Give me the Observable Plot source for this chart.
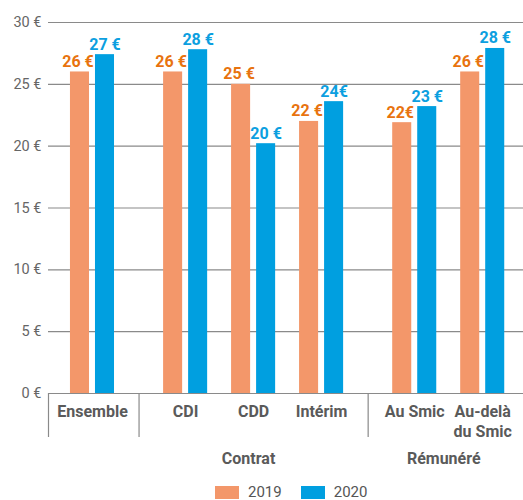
<!DOCTYPE html>
<html><head><meta charset="utf-8">
<script src="https://cdn.jsdelivr.net/npm/d3@7"></script>
<script src="https://cdn.jsdelivr.net/npm/@observablehq/plot@0.6"></script>
<style>
html,body{margin:0;background:#fff;font-family:Roboto,"DejaVu Sans Condensed",sans-serif;}
#chart svg{display:block}
#legend{display:flex;align-items:center;margin-left:215px;margin-top:5px;font-size:15px;color:#555;line-height:15px;height:15px}
.sw{width:24px;height:13px;display:inline-block;margin-right:9px}
.item{display:flex;align-items:center;margin-right:19px}
</style></head><body><div id="chart"></div>
<div id="legend"></div>
<script>
const categories = ["Ensemble","CDI","CDD","Intérim","Au Smic","Au-delà\ndu Smic"];
const categoryGroups = ["", "Contrat","Contrat","Contrat","Rémunéré","Rémunéré"];
const groupNames = ["", "Contrat", "Rémunéré"];
const years = ["2019","2020"];
const values2019 = [26.0, 26.0, 25.0, 22.0, 21.9, 26.0];
const values2020 = [27.4, 27.8, 20.2, 23.6, 23.2, 27.9];
const labels2019 = ["26 €","26 €","25 €","22 €","22€","26 €"];
const labels2020 = ["27 €","28 €","20 €","24€","23 €","28 €"];
const yTicks = [0,5,10,15,20,25,30];

const barColors = ["#F3976A","#009FE0"];
const labelColors = ["#E8730F","#0C9FE0"];
const GAP = 0.37, OFF = 0.184, HALF = 0.14;
const FONT = 'Roboto,"DejaVu Sans Condensed",sans-serif';

const pos = categories.map((c,i) => i + GAP * groupNames.indexOf(categoryGroups[i]));
const xmin = -0.647, xmax = pos[pos.length-1] + 0.6;

const bars = [];
categories.forEach((c,i) => {
  [values2019, values2020].forEach((vals, k) => {
    const cx = pos[i] + (k === 0 ? -OFF : OFF);
    bars.push({cat: c, year: years[k], k, value: vals[i], label: (k===0?labels2019:labels2020)[i], cx, x1: cx - HALF, x2: cx + HALF});
  });
});
const cats = categories.map((c,i) => ({name: c, pos: pos[i]}));
const dividers = [xmin];
for (let i = 1; i < categories.length; i++) {
  if (categoryGroups[i] !== categoryGroups[i-1]) dividers.push((pos[i] + pos[i-1]) / 2);
}
const groupLabels = groupNames.filter(g => g).map(g => {
  const ps = pos.filter((p,i) => categoryGroups[i] === g);
  return {name: g, pos: d3.mean(ps)};
});

const plot = Plot.plot({
  width: 523, height: 480,
  marginLeft: 48, marginRight: 0, marginTop: 22, marginBottom: 87,
  x: {type: "linear", domain: [xmin, xmax], axis: null},
  y: {domain: [0, 30], axis: null},
  color: {domain: years, range: barColors},
  style: {fontFamily: FONT, background: "white", overflow: "visible"},
  marks: [
    Plot.gridY(yTicks, {stroke: "#8a8a8a", strokeOpacity: 1, strokeWidth: 1.2}),
    Plot.axisY(yTicks, {tickSize: 0, tickPadding: 7, tickFormat: d => d + " €", fontSize: 14.5, fill: "#666", label: null}),
    Plot.rectY(bars, {x1: "x1", x2: "x2", y: "value", fill: "year"}),
    Plot.text(bars.filter(d => d.k === 0), {x: "cx", y: "value", text: "label", dy: -5, dx: -2, lineAnchor: "bottom", fill: labelColors[0], fontWeight: "bold", fontSize: 16}),
    Plot.text(bars.filter(d => d.k === 1), {x: "cx", y: "value", text: "label", dy: -5, lineAnchor: "bottom", fill: labelColors[1], fontWeight: "bold", fontSize: 16}),
    Plot.ruleX(dividers, {y1: 0, y2: -3.56, stroke: "#8a8a8a", strokeWidth: 1.2}),
    Plot.text(cats, {x: "pos", y: 0, text: "name", lineAnchor: "top", dy: 10, fontSize: 16, fontWeight: "bold", fill: "#5a5a5a", lineHeight: 1.22}),
    Plot.text(groupLabels, {x: "pos", y: 0, text: "name", lineAnchor: "bottom", dy: 70, dx: -5, fontSize: 16, fontWeight: "bold", fill: "#5a5a5a"})
  ]
});
document.getElementById("chart").append(plot);

const legend = document.getElementById("legend");
years.forEach((y, k) => {
  const item = document.createElement("div");
  item.className = "item";
  const sw = document.createElement("span");
  sw.className = "sw";
  sw.style.background = barColors[k];
  const t = document.createElement("span");
  t.textContent = y;
  item.append(sw, t);
  legend.append(item);
});
</script>
</body></html>
